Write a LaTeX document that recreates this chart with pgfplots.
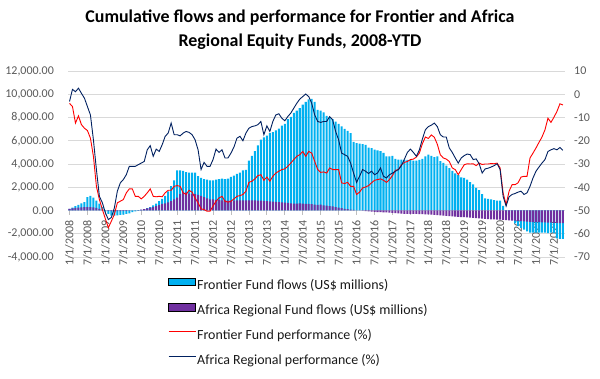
\documentclass[border=0pt]{standalone}
\usepackage{pgfplots}
\pgfplotsset{compat=1.18}
\usepackage{pgfplotstable}
\usepackage{fontspec}
\setmainfont{Carlito}
\definecolor{fblue}{RGB}{0,176,240}
\definecolor{apurple}{RGB}{112,48,160}
\definecolor{navy}{RGB}{0,32,96}
\definecolor{tickgray}{RGB}{89,89,89}
\definecolor{gridgray}{RGB}{217,217,217}
\definecolor{pred}{RGB}{255,0,0}

\pgfplotstableread{
m ff af fp ap
0 150 150 -3.9 -3.1
1 250 180 -5.3 2.1
2 380 220 -12.4 1.1
3 480 250 -9.3 2.6
4 620 270 -13.1 0.4
5 720 280 -14.6 -1.7
6 1150 290 -15.6 -5.3
7 1250 290 -18.9 -8.9
8 1100 270 -26.7 -19.6
9 850 230 -39.6 -32.4
10 600 150 -45.3 -43.9
11 300 50 -49.6 -46.7
12 -100 0 -53.6 -51
13 -300 -30 -57.4 -53.9
14 -450 -50 -54.6 -53
15 -450 -50 -51.7 -48.9
16 -420 -50 -46.7 -41.7
17 -380 -50 -46 -38.1
18 -350 -40 -45.3 -36.7
19 -300 -30 -42.4 -34.6
20 -250 -20 -40.7 -31
21 -150 0 -40.7 -31
22 -80 20 -43.9 -31
23 -30 40 -43.9 -30.3
24 50 80 -45 -29.6
25 100 120 -43.9 -28.9
26 200 180 -42.4 -23.9
27 300 250 -40.7 -22.1
28 450 300 -43.9 -26.7
29 600 370 -44.1 -23.6
30 800 460 -43.9 -24.6
31 1000 560 -44.1 -21.7
32 1250 620 -42.4 -18.1
33 1650 700 -41.3 -16.7
34 2100 800 -41.3 -12.4
35 2600 950 -39.6 -17.4
36 3450 1100 -39.3 -17.4
37 3450 1400 -39.6 -17.9
38 3400 1600 -42.4 -16.7
39 3300 1550 -43.1 -16
40 3250 1450 -41.3 -16.4
41 3250 1400 -42.1 -17.4
42 3250 1400 -44.6 -19.6
43 2950 1350 -46.7 -23.9
44 2800 1250 -49.3 -32.4
45 2700 1150 -49.6 -29.3
46 2650 1050 -50.3 -31
47 2600 950 -50.3 -31
48 2600 950 -48.1 -28.1
49 2650 900 -46 -23.6
50 2700 900 -44.6 -25
51 2750 880 -43.9 -23.9
52 2700 870 -46 -27.4
53 2750 860 -46.4 -27.4
54 2900 860 -46 -25.3
55 3000 860 -45 -22.7
56 3150 870 -43.9 -18.9
57 3250 870 -43.6 -18.1
58 3450 870 -43.1 -20
59 3500 870 -41.7 -16.7
60 4300 870 -37.9 -14.6
61 4700 870 -37.4 -13.9
62 5100 870 -36.4 -13.6
63 5600 860 -35 -13.1
64 6100 850 -34.6 -11.7
65 6300 820 -37 -17.4
66 6450 800 -35.6 -13.6
67 6650 780 -37.4 -16
68 6750 760 -35.3 -11.7
69 6900 740 -33.9 -8.9
70 7050 720 -33.1 -8.4
71 7300 700 -32.4 -10.3
72 7450 680 -32.1 -11.4
73 7850 650 -31 -9.6
74 8050 620 -29.6 -8.1
75 8400 600 -28.1 -6
76 8600 600 -26.7 -3.9
77 8800 620 -26 -2.1
78 9100 600 -24.6 -1
79 9350 580 -26.7 0.1
80 9550 560 -24.6 -1
81 9600 540 -25.3 -3.9
82 9350 510 -28.9 -8.9
83 8650 480 -32.4 -11.7
84 8600 500 -33.6 -12.1
85 8430 450 -33.4 -11.7
86 8150 420 -33.9 -11.7
87 8030 380 -31.7 -9.6
88 7860 350 -32.4 -11
89 7650 300 -32.4 -16
90 7450 250 -32.4 -19.6
91 7230 200 -38.1 -25.3
92 7030 150 -38.4 -26
93 6850 120 -37.9 -26.7
94 6650 80 -39.6 -29.6
95 5900 50 -39.6 -33.9
96 5800 20 -43.1 -37.9
97 5750 0 -42.1 -35.3
98 5700 -20 -40.3 -32.4
99 5650 -50 -39.9 -33.1
100 5400 -80 -39.3 -34.1
101 5370 -100 -38.1 -33.1
102 5230 -120 -37 -34.6
103 5170 -140 -36.7 -33.9
104 5100 -150 -36.4 -31.7
105 4950 -160 -37 -35.3
106 4650 -170 -37.9 -36
107 4650 -180 -36.7 -34.6
108 4700 -200 -35 -33.9
109 4450 -220 -32.7 -33.1
110 4370 -250 -32.4 -32.4
111 4370 -270 -30.3 -30.7
112 4370 -280 -29.3 -27.9
113 4350 -280 -28.9 -25
114 4350 -290 -28.1 -23.6
115 4300 -300 -27.9 -25
116 4300 -300 -27 -26.7
117 4350 -310 -25.3 -23.9
118 4450 -320 -21.3 -19.3
119 4650 -330 -18.4 -15.3
120 4800 -340 -19 -13.9
121 4700 -350 -17.5 -13.3
122 4600 -380 -18.5 -12.4
123 4650 -400 -21.5 -13.9
124 4250 -420 -26 -17.4
125 4100 -450 -27.4 -18.4
126 3850 -470 -27.9 -18.4
127 3650 -480 -28.9 -23.1
128 3400 -500 -31.7 -25
129 3200 -520 -32.4 -27.4
130 3050 -540 -34.6 -29.6
131 2850 -560 -32.4 -27.4
132 2800 -580 -30.3 -26.4
133 2650 -600 -29.9 -25.7
134 2450 -620 -30 -26
135 2250 -640 -29.9 -28.1
136 1950 -660 -30.7 -27.8
137 1750 -680 -29.6 -29.9
138 1400 -700 -30.2 -33.9
139 1050 -720 -30 -32.1
140 1000 -740 -30 -31.8
141 950 -760 -29.8 -31.3
142 900 -770 -29.9 -30.7
143 850 -780 -29.6 -29.9
144 850 -790 -31.7 -32.4
145 400 -800 -42.4 -43.9
146 -400 -830 -47.5 -48.1
147 -600 -850 -41.7 -44.1
148 -800 -870 -38.9 -43.1
149 -1100 -880 -38.9 -42.7
150 -1350 -900 -38.1 -42.1
151 -1500 -920 -35.6 -41.7
152 -1650 -930 -35.3 -43.1
153 -1800 -950 -35.3 -42.4
154 -1900 -970 -27.4 -39.6
155 -1900 -990 -25.3 -36
156 -1900 -1000 -23.1 -33.1
157 -1900 -1010 -20.7 -31.3
158 -1900 -1020 -18.4 -29.6
159 -1900 -1030 -15.3 -28.1
160 -1950 -1040 -10.3 -24.6
161 -1900 -1050 -12.1 -23.9
162 -1950 -1060 -9.9 -23.4
163 -2400 -1070 -7.4 -23.9
164 -2450 -1080 -4.1 -22.9
165 -2450 -1090 -4.6 -24.1
}\data

\begin{document}
\begin{tikzpicture}
\path[use as bounding box] (-68bp,-122bp) rectangle (532bp,257bp);
\node[align=center, font=\bfseries\fontsize{18}{24}\selectfont, inner sep=0pt] at (232bp,227bp)
  {Cumulative flows and performance for Frontier and Africa\\Regional Equity Funds, 2008-YTD};
\begin{axis}[
  at={(0,0)}, anchor=south west,
  scale only axis, width=497bp, height=186bp,
  xmin=-0.5, xmax=165.7,
  ymin=-4000, ymax=12000,
  ytick={-4000,-2000,0,2000,4000,6000,8000,10000,12000},
  scaled y ticks=false,
  axis line style={draw=none},
  ymajorgrids, grid style={gridgray, line width=0.75bp},
  ytick style={draw=none},
  yticklabel style={font=\fontsize{12}{14}\selectfont, color=tickgray, inner sep=0pt, xshift=-10bp},
  /pgf/number format/assume math mode=true,
  yticklabel={\pgfmathprintnumber[fixed, fixed zerofill, precision=2, 1000 sep={,}]{\tick}},
  xtick={0,6,...,162},
  xticklabels={1/1/2008,7/1/2008,1/1/2009,7/1/2009,1/1/2010,7/1/2010,1/1/2011,7/1/2011,1/1/2012,7/1/2012,1/1/2013,7/1/2013,1/1/2014,7/1/2014,1/1/2015,7/1/2015,1/1/2016,7/1/2016,1/1/2017,7/1/2017,1/1/2018,7/1/2018,1/1/2019,7/1/2019,1/1/2020,7/1/2020,1/1/2021,7/1/2021},
  xtick pos=left, tick align=outside, major tick length=4bp,
  xtick style={yshift=46.5bp, draw=gridgray!70!gray, line width=0.75bp},
  xticklabel style={rotate=90, anchor=east, font=\fontsize{12}{14}\selectfont, color=tickgray, inner sep=0pt},
  xticklabel shift={-41bp},
  ybar, bar width=0.68,
]
\addplot[fill=fblue, draw=none, bar shift=0pt] table[x=m, y=ff]{\data};
\addplot[fill=apurple, draw=none, bar shift=0pt] table[x=m, y=af]{\data};
\end{axis}
\begin{axis}[
  at={(0,0)}, anchor=south west,
  scale only axis, width=497bp, height=186bp,
  xmin=-0.5, xmax=165.7,
  ymin=-70, ymax=10,
  ytick={-70,-60,...,10},
  hide x axis,
  axis y line*=right,
  y axis line style={draw=none},
  ytick style={draw=none},
  yticklabel style={font=\fontsize{12}{14}\selectfont, color=tickgray, inner sep=0pt, xshift=9bp, anchor=west},
  /pgf/number format/assume math mode=true,
  legend style={at={(axis description cs:0.2012,-0.11)}, anchor=north west, draw=none, fill=none,
    font=\fontsize{14}{16}\selectfont, text=black!90, inner sep=0pt, row sep=9.7bp,
    nodes={inner sep=1bp, text height=10bp, text depth=3bp},
    /tikz/every even column/.append style={column sep=2bp}},
  legend cell align=left,
]
\addlegendimage{legend image code/.code={\fill[fill=fblue] (0bp,0.5bp) rectangle (27bp,8bp);}}
\addlegendentry{Frontier Fund flows (US\$ millions)}
\addlegendimage{legend image code/.code={\fill[fill=apurple] (0bp,0.5bp) rectangle (27bp,8bp);}}
\addlegendentry{Africa Regional Fund flows (US\$ millions)}
\addplot[draw=pred, line width=0.9bp, mark=none,
  legend image code/.code={\draw[draw=pred, line width=1bp] (0bp,4bp) -- (27bp,4bp);}] table[x=m, y=fp]{\data};
\addlegendentry{Frontier Fund performance (\%)}
\addplot[draw=navy, line width=0.9bp, mark=none,
  legend image code/.code={\draw[draw=navy, line width=1bp] (0bp,4bp) -- (27bp,4bp);}] table[x=m, y=ap]{\data};
\addlegendentry{Africa Regional performance (\%)}
\end{axis}
\end{tikzpicture}
\end{document}
